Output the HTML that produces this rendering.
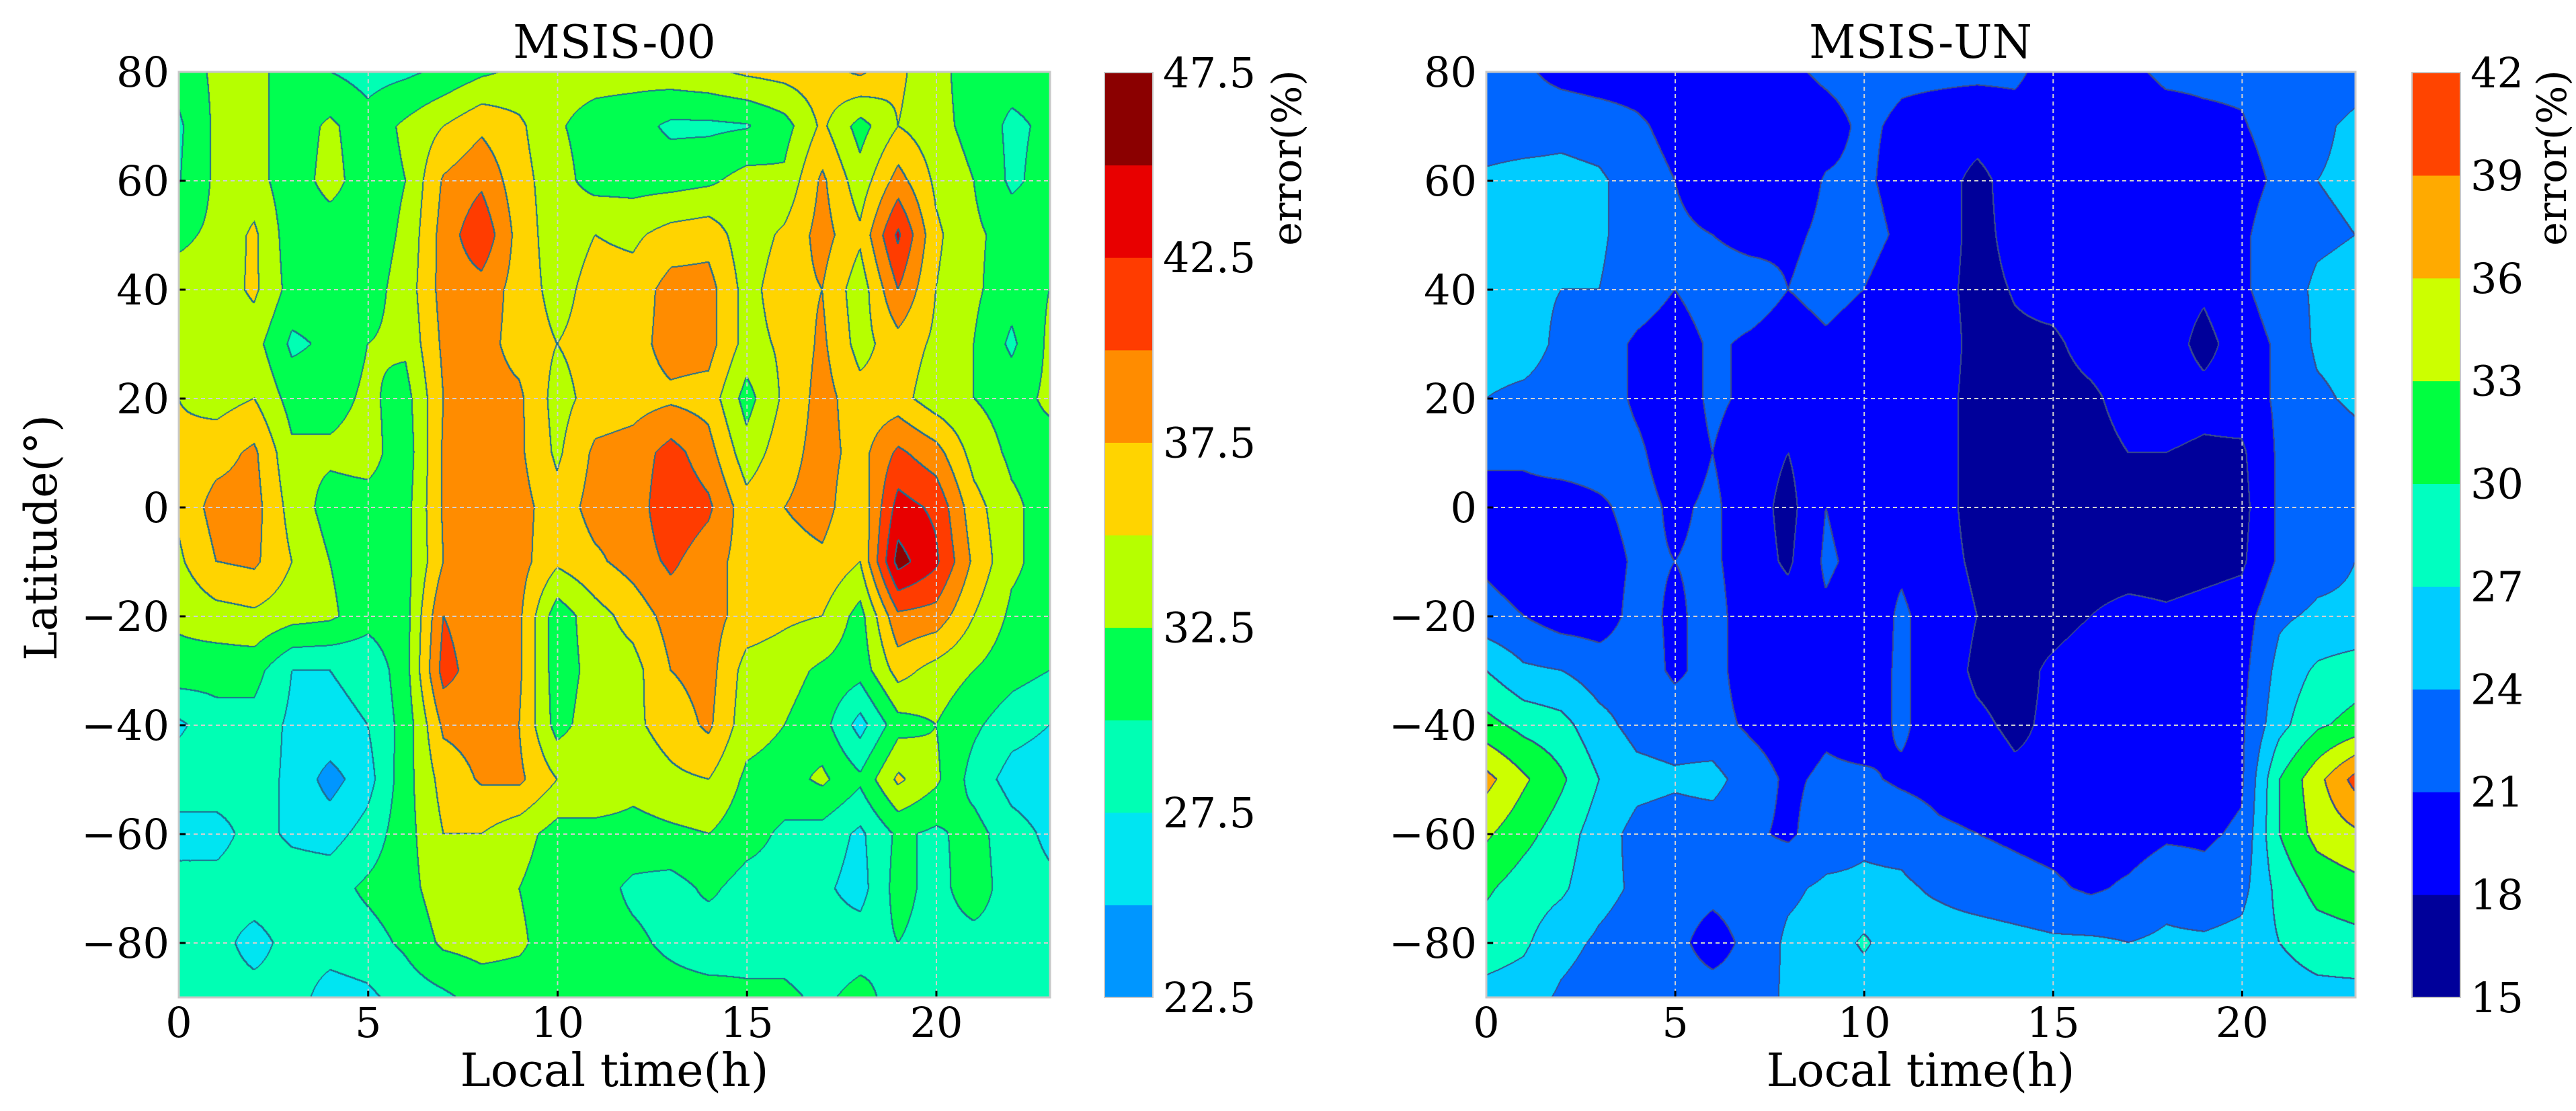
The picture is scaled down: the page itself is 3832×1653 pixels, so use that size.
<!DOCTYPE html>
<html><head><meta charset="utf-8">
<style>
body{margin:0;background:#fff;width:3832px;height:1653px;position:relative;overflow:hidden;font-family:"DejaVu Serif","Liberation Serif",serif;}
.t{position:absolute;color:#000;white-space:nowrap;line-height:1;}
canvas{position:absolute;}
</style></head><body>
<div class="t" style="left:914px;top:30px;font-size:68px;transform:translateX(-50%)">MSIS-00</div>
<div class="t" style="left:2857px;top:30px;font-size:68px;transform:translateX(-50%)">MSIS-UN</div>
<div class="t" style="left:62px;top:800px;font-size:66px;transform:translate(-50%,-50%) rotate(-90deg)">Latitude(°)</div>
<div class="t" style="left:914px;top:1560px;font-size:68px;transform:translateX(-50%)">Local time(h)</div>
<div class="t" style="left:2857px;top:1560px;font-size:68px;transform:translateX(-50%)">Local time(h)</div>
<div class="t" style="left:1915px;top:235px;font-size:60px;transform:translate(-50%,-50%) rotate(-90deg)">error(%)</div>
<div class="t" style="left:3797px;top:235px;font-size:60px;transform:translate(-50%,-50%) rotate(-90deg)">error(%)</div>
<canvas id="cl" width="1296" height="1377" style="left:266px;top:107px"></canvas>
<canvas id="cr" width="1293" height="1377" style="left:2211px;top:107px"></canvas>
<svg id="ov" width="3832" height="1653" style="position:absolute;left:0;top:0"></svg>
<script>
const LT=[0,1,2,3,4,5,6,7,8,9,10,11,12,13,14,15,16,17,18,19,20,21,22,23];
const LAT=[80,70,60,50,40,30,20,10,0,-10,-20,-30,-40,-50,-60,-70,-80,-90];
const XTICKS=[0,5,10,15,20];
const YTICKS=[80,60,40,20,0,-20,-40,-60,-80];
const LEVELS_L=[22.5,25,27.5,30,32.5,35,37.5,40,42.5,45,47.5];
const CBLABELS_L=["47.5","42.5","37.5","32.5","27.5","22.5"];
const COLORS_L=["#0096ff","#00e5f2","#00ffb4","#00ff50","#b6ff00","#ffd400","#ff8c00","#ff3c00","#e80000","#8b0000"];
const LEVELS_R=[15,18,21,24,27,30,33,36,39,42];
const CBLABELS_R=["42","39","36","33","30","27","24","21","18","15"];
const COLORS_R=["#00009a","#0000ff","#0066ff","#00ccff","#00ffc0","#00ff40","#ccff00","#ffaa00","#ff4400"];
const MSIS00=[
[31,33,33.5,31,30,29,29.5,30.5,32,33,33.5,33.5,33.5,34,34.5,35.5,36,36.5,38,35.5,33.5,31,31,31],
[29.5,33,33.5,31,33,31,33,35,37,35.5,32.8,31.5,31,29.5,29.5,29.8,31.5,35.5,31.5,35,33.5,31.5,29.5,30.5],
[29.8,33,33.5,31,33.5,31,32.5,37.8,39.5,36,33.5,31.5,31.5,31.5,32,33.5,33,38,33.5,38.5,34.5,32.5,29.5,31],
[32,33,35.5,31,31,31,33,38.5,42,36.5,33.5,35,34.5,36,36.5,33.5,35.5,38.5,35.5,43,35.5,33,31.5,31.5],
[33.5,33.5,35.5,31.5,31.5,31.5,33.5,38.5,39,36.5,34,36,36,38.5,38.5,34,36.5,37.5,33.5,40,35,33,31,32.5],
[34,33.5,33.5,29.5,30.5,32.5,33,38,38.5,36.5,35,36,36.5,38.5,38.5,34,35.5,38,34,36.5,34.5,32.5,29.5,33],
[35,34,35,31.5,31.5,33,31.5,37.5,38.5,38,34,36,36.5,37,36.5,31.5,35.5,38.5,36,36,33.5,32.5,31.5,33],
[35.5,36.5,38,33,33,33.5,31,37.8,38.5,38,34.5,38,38.5,41,38.5,33.5,36.5,38.5,36.5,40.5,38.5,34,32,31.5],
[35.5,38.5,38.5,34,31.5,31.5,31.5,37.8,38.5,38.5,36,38.5,38.5,42,40.5,36,37.5,38.5,35.5,43.5,42,36,33,31.5],
[34.5,37.5,38,35,32.5,31,31.5,37.5,38.5,38.5,35.5,37,38.5,40.5,38.5,36.5,36.5,37,35,46,43,37,33,31.5],
[33,34,34.5,33.5,33,31,31.5,40,38.5,38,31,34,36,38.5,38.5,36.5,35.5,35,31.5,39.5,39,35,32,31.5],
[31.5,31,31,27.5,27.5,28,31.5,41,38.5,38,31,33.5,34,37.5,38.5,34,33.5,32,31,36,34,32.5,31,30],
[27,29,29,27,27,27.5,31,38,38.5,37.5,31.5,34,34.5,36,38,33.5,32.5,31,26.5,31.5,32.5,30.5,28.5,27.5],
[29,29,28.5,27,24,26.5,31.5,36,37.8,38,35,35,33.5,34.5,35,32,31.5,33,30.5,35.5,33,29,26.5,26],
[26.5,26.5,28.5,27,26.5,28.5,31.5,35,35,33.5,31.5,31.5,31.5,32,32.5,31,29.5,29,27,30.5,29.5,31,28.5,27],
[28.5,28.5,29,29,29,30.5,31.5,34,33.5,32.5,31,31,29.5,29,30.5,29,29,28,26.5,31,29,31.5,28.5,28],
[28.5,28.5,26.5,28.5,28.5,29,30.5,33,33.5,33,31,31,30.5,29.5,28.5,29,29,28.5,28.8,30,29,29,29,28.5],
[28.5,28.5,28.5,28.5,26.5,27,28.5,29.5,31,31,31,31,31,31,31,30.5,30.5,29.5,30.8,29,28.5,28.5,28.5,28.5]
];
const MSISUN=[
[22,21.5,20,19.5,19.5,19.5,19.5,19.5,20.5,21.5,22,21.5,21.5,21.5,21.5,20,19.5,20.5,21.5,21.5,21.5,22,22.5,23],
[22.5,22.5,23,22.5,21.5,20,19.5,19.5,19.5,20,21.5,20.5,20,19.5,20,19.5,19.5,19.5,20,20.5,20.8,22,23.5,24.5],
[24.5,25,25,24.5,22.5,21,19.5,19.5,19.5,21.2,21.5,20,19.5,17,19.5,19,19,19,19.5,19.5,20,21.5,24,24.5],
[24.5,25,25,24.5,22.5,21.5,21,20,20.5,21.5,22,20.5,19.5,17,19,19,19,19.5,19.5,19.5,20.5,22.5,23.5,24],
[24.5,24.5,24,24,22.5,21,22.5,22.5,21,22,21,19.5,19,17,18.2,19,19.5,19.5,19.5,18.5,20.5,22.5,24.5,25],
[25,25,23.5,22.5,20.5,19.5,21.5,20.5,19.5,20.5,19.5,19.5,19.5,17,17.5,17.5,19,19.5,19.5,17,19.5,21.5,24.5,25],
[24,23.5,23,22.5,20.5,19.5,21.5,20.5,19.5,21,19.5,19.5,19,17,17,17,17.5,19,19.5,19,19.5,21.5,23.5,24.5],
[21.5,21.5,22.5,22.5,21.5,19.5,21,19.5,18,20,18,19.5,19,17,16.5,16.5,17,18,18,17.5,17.5,21.5,22.5,23],
[20,20,19.5,20.5,22,20.5,21.5,19.5,17,21,19.5,19.5,19,17,16.5,16.5,16.5,16.5,16.5,16.5,17,21.5,22.5,22.5],
[20.5,19.5,20.5,19.5,21.5,21,21.5,19.5,17.5,21.5,20,20.5,19,17.5,16.5,16.5,16.5,16.5,16.5,17,17.5,21.5,23,24],
[22,21,19.5,19.5,22,20.5,22,19.5,19.5,20.5,19,21.5,19.5,18,17,17,18,19,18.5,19,19.5,23.5,24.5,24.5],
[27,24.5,24,22.5,22.5,20.5,22,19.5,18,20,19.5,21.5,19.5,17.5,17,18.5,19.5,19.5,19.5,19.5,20,25,27.5,28.5],
[31,29,28,25,23,22.5,22,20.5,19.5,20.5,19.5,21.5,19.5,18.5,17.5,18.5,19.5,19.5,19.5,19.5,20.5,26,29.5,31],
[37,33.5,30.5,27,25,24.5,25,22.5,20.5,21.5,21.5,20.5,20,19.5,18.5,18.5,19.5,19.5,19.5,19.5,20.5,30,35,40],
[33.5,31,28.5,25.5,23,22.5,22.5,21.5,20.5,22.5,23.5,23,21.5,21,20.5,20,19.5,19.5,20.5,20.5,21.5,30,34,35.5],
[30.5,28.5,27.5,25,23.5,22.5,22,22.5,23.5,24.5,24.5,24.5,23.5,22.5,22,21.5,20.5,21.5,23,22,23,28,31,32],
[28.5,27.5,25,23.5,22.5,22,19.5,22,24.5,25,27.5,25,25.5,25.5,25,24.5,24.5,24,24.5,24.5,25,27,28.5,29],
[26,25.5,23.5,22.5,22.5,22.5,22.5,22.5,24.5,25,25,25,25,25,25,25,25,25,25,25,25,25.5,26,26]
];
function hex(c){return [parseInt(c.substr(1,2),16),parseInt(c.substr(3,2),16),parseInt(c.substr(5,2),16)];}
function drawContour(id,grid,levels,colors,lineCol){
  const cv=document.getElementById(id),ctx=cv.getContext('2d');
  const W=cv.width,H=cv.height,img=ctx.createImageData(W,H),d=img.data;
  const nx=LT.length,ny=LAT.length,ltMax=LT[nx-1],latTop=LAT[0],latBot=LAT[ny-1];
  const band=new Int8Array(W*H);
  for(let py=0;py<H;py++){
    const lat=latTop-(py+0.5)/H*(latTop-latBot);
    let fy=(latTop-lat)/(latTop-LAT[1]); let j=Math.min(Math.floor(fy),ny-2); let ty=fy-j;
    for(let px=0;px<W;px++){
      const lt=(px+0.5)/W*ltMax; let i=Math.min(Math.floor(lt),nx-2); let tx=lt-i;
      const v=grid[j][i]*(1-tx)*(1-ty)+grid[j][i+1]*tx*(1-ty)+grid[j+1][i]*(1-tx)*ty+grid[j+1][i+1]*tx*ty;
      let b=Math.floor((v-levels[0])/(levels[1]-levels[0]));
      b=Math.max(0,Math.min(colors.length-1,b));
      band[py*W+px]=b;
    }
  }
  const rgb=colors.map(hex),lc=hex(lineCol);
  for(let py=0;py<H;py++)for(let px=0;px<W;px++){
    const k=py*W+px,b=band[k];
    let edge=false;
    if(px+1<W&&band[k+1]!==b)edge=true;
    if(px+2<W&&band[k+2]!==b)edge=true;
    if(py+1<H&&band[k+W]!==b)edge=true;
    if(py+2<H&&band[k+2*W]!==b)edge=true;
    const c=edge?lc:rgb[b];
    d[k*4]=c[0];d[k*4+1]=c[1];d[k*4+2]=c[2];d[k*4+3]=255;
  }
  ctx.putImageData(img,0,0);
}
drawContour('cl',MSIS00,LEVELS_L,COLORS_L,'#1f6f90');
drawContour('cr',MSISUN,LEVELS_R,COLORS_R,'#3a4d8a');

const NS='http://www.w3.org/2000/svg';
const FONT='DejaVu Serif, Liberation Serif, serif';
const ov=document.getElementById('ov');
function el(tag,attrs,parent){const e=document.createElementNS(NS,tag);for(const k in attrs)e.setAttribute(k,attrs[k]);(parent||ov).appendChild(e);return e;}
function panel(x0,name){
  const y0=107,w=(name==='left'?1296:1293),h=1377;
  const xs=lt=>x0+lt/23*w, ys=lat=>y0+(80-lat)/170*h;
  const g=el('g',{});
  
  
  XTICKS.forEach(t=>{
    if(t>0){const l=el('line',{x1:xs(t),x2:xs(t),y1:y0,y2:y0+h,stroke:'#d0d0d0','stroke-width':2,'stroke-dasharray':'6,5'},g);
      
      }
    el('line',{x1:xs(t),x2:xs(t),y1:y0+h,y2:y0+h-10,stroke:'#000','stroke-width':3},g);
    const tx=el('text',{x:xs(t),y:1543,'font-size':62,'text-anchor':'middle','font-family':FONT},g);
    tx.textContent=t;
    
    
  });
  YTICKS.forEach(t=>{
    const l=el('line',{x1:x0,x2:x0+w,y1:ys(t),y2:ys(t),stroke:'#d0d0d0','stroke-width':2,'stroke-dasharray':'6,5'},g);
    
    
    el('line',{x1:x0,x2:x0+10,y1:ys(t),y2:ys(t),stroke:'#000','stroke-width':3},g);
    const tx=el('text',{x:x0-14,y:ys(t)+22,'font-size':62,'text-anchor':'end','font-family':FONT},g);
    tx.textContent=(t<0?'\u2212':'')+Math.abs(t);
    
    
  });
  el('rect',{x:x0,y:y0,width:w,height:h,fill:'none',stroke:'#c8c8c8','stroke-width':3},g);
}
panel(266,'left');panel(2211,'right');
function colorbar(x0,colors,labels,name){
  const y0=108,h=1376,w=72,n=colors.length,bh=h/n;
  const g=el('g',{});
  
  
  colors.forEach((c,i)=>{
    const r=el('rect',{x:x0,y:y0+h-(i+1)*bh,width:w,height:bh+0.5,fill:c},g);
    
    
  });
  el('rect',{x:x0,y:y0,width:w,height:h,fill:'none',stroke:'#c8c8c8','stroke-width':2},g);
  const step=h/(labels.length-1);
  labels.forEach((s,i)=>{
    const t=el('text',{x:x0+w+15,y:y0+i*step+22,'font-size':62,'font-family':FONT},g);
    t.textContent=s;
    
    
  });
}
colorbar(1643,COLORS_L,CBLABELS_L,'left');
colorbar(3588,COLORS_R,CBLABELS_R,'right');
</script>
</body></html>
